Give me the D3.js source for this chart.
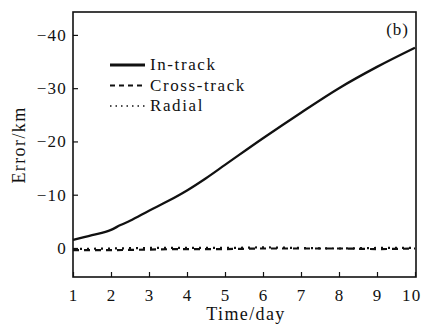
<!DOCTYPE html>
<html>
<head>
<meta charset="utf-8">
<script src="https://cdn.jsdelivr.net/npm/d3@7"></script>
<style>
  body { margin: 0; background: #fff; }
  text { font-family: "Liberation Serif", "DejaVu Serif", serif; fill: #111; }
</style>
</head>
<body>
<svg id="chart" width="422" height="325"></svg>
<script>
// data (error in km, negative upwards)
const days = [1, 1.5, 2, 2.25, 2.5, 3, 3.5, 4, 4.5, 5, 6, 7, 8, 9, 10]
const inTrack = [-1.5, -2.4, -3.4, -4.3, -5.1, -7.0, -8.8, -10.8, -13.1, -15.6, -20.6, -25.4, -30.0, -34.0, -37.6]
const crossDays = [1, 2, 3, 4, 5, 6, 7, 8, 9, 10]
const crossTrack = [0.4, 0.4, 0.3, 0.2, 0.2, 0.1, 0.1, 0.1, 0.2, 0.1]
const radial = [0.2, 0.1, 0.0, 0.0, 0.0, -0.1, 0.0, 0.1, 0.0, 0.0]
const xTicks = [1, 2, 3, 4, 5, 6, 7, 8, 9, 10]
const yTicks = [0, -10, -20, -30, -40]

let svg = d3.select("#chart")
let box = { left: 73, right: 416, top: 12, bottom: 277 }

let x = d3.scaleLinear().domain([1, 10]).range([box.left, 415])
let y = d3.scaleLinear().domain([5.45, -44.3]).range([box.bottom, box.top])

// 坐标轴
let xg = svg.append("g").attr("transform", `translate(0, ${box.bottom})`)
xg.call(d3.axisBottom(x).tickValues(xTicks).tickSize(-5).tickPadding(10)
  .tickFormat(d3.format("d")))
let yg = svg.append("g").attr("transform", `translate(${box.left}, 0)`)
yg.call(d3.axisLeft(y).tickValues(yTicks).tickSize(-5).tickPadding(6)
  .tickFormat(d => d < 0 ? "\u2212" + Math.abs(d) : d))
svg.selectAll(".domain").remove()
svg.selectAll(".tick line").attr("stroke", "#111").attr("stroke-width", 1.2)
svg.selectAll(".tick text").attr("font-size", "17px").attr("font-family", "Liberation Serif")
  .attr("fill", "#111").attr("letter-spacing", "1.2px")
xg.selectAll(".tick text").attr("dy", "0.85em")
// 最后一个刻度标签贴边，稍微左移以免被裁掉
xg.selectAll(".tick text").filter(d => d === 10).attr("text-anchor", "end").attr("x", 6)

// 边框
svg.append("rect")
  .attr("x", box.left).attr("y", box.top)
  .attr("width", box.right - box.left).attr("height", box.bottom - box.top)
  .attr("fill", "none").attr("stroke", "#111").attr("stroke-width", 1.6)

let line = d3.line().x(d => x(d[0])).y(d => y(d[1])).curve(d3.curveMonotoneX)

svg.append("path")
  .datum(days.map((d, i) => [d, inTrack[i]]))
  .attr("d", line).attr("fill", "none").attr("stroke", "#111").attr("stroke-width", 2.3)
svg.append("path")
  .datum(crossDays.map((d, i) => [d, crossTrack[i]]))
  .attr("d", line).attr("fill", "none").attr("stroke", "#111").attr("stroke-width", 2.2)
  .attr("stroke-dasharray", "6,5")
svg.append("path")
  .datum(crossDays.map((d, i) => [d, radial[i]]))
  .attr("d", line).attr("fill", "none").attr("stroke", "#111").attr("stroke-width", 2.2)
  .attr("stroke-dasharray", "2,5")

// 图例
const legend = [
  { name: "In-track", dash: null, w: 3 },
  { name: "Cross-track", dash: "5,4", w: 1.8 },
  { name: "Radial", dash: "1.5,4", w: 1.6 }
]
let lg = svg.selectAll(".lg").data(legend).enter().append("g")
  .attr("transform", (d, i) => `translate(110, ${70 + i * 20.5})`)
lg.append("line").attr("x1", 0).attr("x2", 35).attr("y1", -5).attr("y2", -5)
  .attr("stroke", "#111").attr("stroke-width", d => d.w)
  .attr("stroke-dasharray", d => d.dash)
lg.append("text").attr("x", 40).attr("y", 0).attr("font-size", "17px")
  .attr("letter-spacing", "1.6px").text(d => d.name)

svg.append("text").attr("x", 409).attr("y", 35).attr("text-anchor", "end")
  .attr("font-size", "17px").attr("letter-spacing", "1px").text("(b)")

// 轴标题
svg.append("text").attr("x", 246).attr("y", 320).attr("text-anchor", "middle")
  .attr("font-size", "18px").attr("letter-spacing", "1.4px").text("Time/day")
svg.append("text").attr("transform", "translate(25, 145) rotate(-90)")
  .attr("text-anchor", "middle").attr("font-size", "18px")
  .attr("letter-spacing", "1.4px").text("Error/km")
</script>
</body>
</html>
